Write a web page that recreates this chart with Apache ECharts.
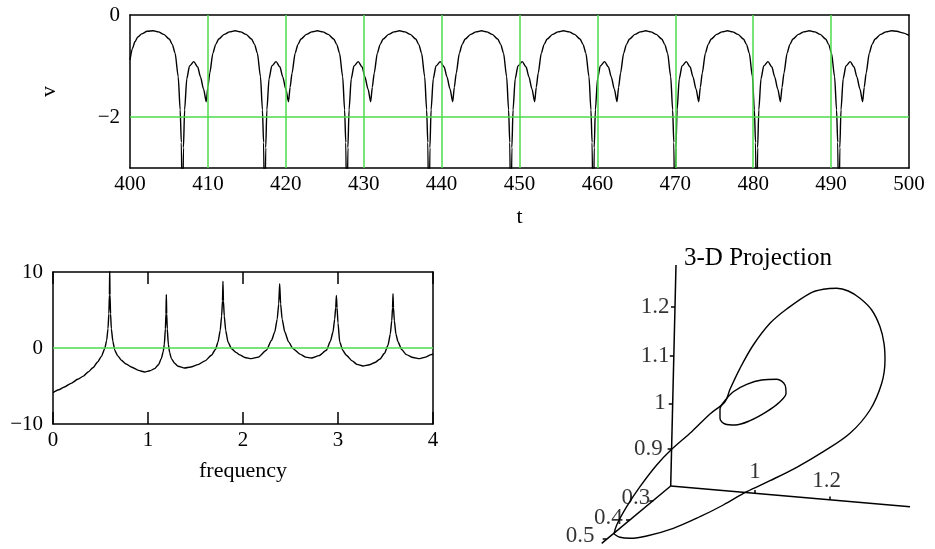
<!DOCTYPE html>
<html>
<head>
<meta charset="utf-8">
<title>v(t), spectrum and 3-D projection</title>
<script src="https://cdn.jsdelivr.net/npm/echarts@6.0.0/dist/echarts.min.js"></script>
<style>
  html, body { margin: 0; padding: 0; background: #fff; }
  #main { width: 935px; height: 549px; }
</style>
</head>
<body>
<div id="main"></div>
<script>
// v(t), 400..500 (spikes run below -3 and get clipped)
var voltage = [
  [400.00,-0.88],[400.30,-0.66],[400.65,-0.52],[401.00,-0.43],[401.50,-0.37],[402.20,-0.32],[403.00,-0.31],
  [403.64,-0.33],[404.34,-0.38],[405.04,-0.47],[405.44,-0.58],[405.79,-0.75],[406.19,-1.21],[406.44,-1.86],[406.59,-2.50],[406.74,-4.50],
  [406.86,-2.60],[407.01,-1.86],[407.29,-1.25],[407.64,-1.00],[408.19,-0.915],[408.69,-1.02],[409.04,-1.21],[409.44,-1.45],[409.79,-1.70],
  [409.99,-1.42],[410.24,-1.14],[410.64,-0.75],[410.99,-0.58],[411.39,-0.47],[412.09,-0.38],[412.79,-0.33],[413.49,-0.31],
  [414.20,-0.33],[414.90,-0.38],[415.60,-0.47],[416.00,-0.58],[416.35,-0.75],[416.75,-1.21],[417.00,-1.86],[417.15,-2.50],[417.30,-4.50],
  [417.42,-2.60],[417.57,-1.86],[417.85,-1.25],[418.20,-1.00],[418.75,-0.915],[419.25,-1.02],[419.60,-1.21],[420.00,-1.45],[420.35,-1.70],
  [420.55,-1.42],[420.80,-1.14],[421.20,-0.75],[421.55,-0.58],[421.95,-0.47],[422.65,-0.38],[423.35,-0.33],[424.05,-0.31],
  [424.75,-0.33],[425.45,-0.38],[426.15,-0.47],[426.55,-0.58],[426.90,-0.75],[427.30,-1.21],[427.55,-1.86],[427.70,-2.50],[427.85,-4.50],
  [427.97,-2.60],[428.12,-1.86],[428.40,-1.25],[428.75,-1.00],[429.30,-0.915],[429.80,-1.02],[430.15,-1.21],[430.55,-1.45],[430.90,-1.70],
  [431.10,-1.42],[431.35,-1.14],[431.75,-0.75],[432.10,-0.58],[432.50,-0.47],[433.20,-0.38],[433.90,-0.33],[434.60,-0.31],
  [435.28,-0.33],[435.98,-0.38],[436.68,-0.47],[437.08,-0.58],[437.43,-0.75],[437.83,-1.21],[438.08,-1.86],[438.23,-2.50],[438.38,-4.50],
  [438.50,-2.60],[438.65,-1.86],[438.93,-1.25],[439.28,-1.00],[439.83,-0.915],[440.33,-1.02],[440.68,-1.21],[441.08,-1.45],[441.43,-1.70],
  [441.63,-1.42],[441.88,-1.14],[442.28,-0.75],[442.63,-0.58],[443.03,-0.47],[443.73,-0.38],[444.43,-0.33],[445.13,-0.31],
  [445.80,-0.33],[446.50,-0.38],[447.20,-0.47],[447.60,-0.58],[447.95,-0.75],[448.35,-1.21],[448.60,-1.86],[448.75,-2.50],[448.90,-4.50],
  [449.02,-2.60],[449.17,-1.86],[449.45,-1.25],[449.80,-1.00],[450.35,-0.915],[450.85,-1.02],[451.20,-1.21],[451.60,-1.45],[451.95,-1.70],
  [452.15,-1.42],[452.40,-1.14],[452.80,-0.75],[453.15,-0.58],[453.55,-0.47],[454.25,-0.38],[454.95,-0.33],[455.65,-0.31],
  [456.37,-0.33],[457.07,-0.38],[457.77,-0.47],[458.17,-0.58],[458.52,-0.75],[458.92,-1.21],[459.17,-1.86],[459.32,-2.50],[459.47,-4.50],
  [459.59,-2.60],[459.74,-1.86],[460.02,-1.25],[460.37,-1.00],[460.92,-0.915],[461.42,-1.02],[461.77,-1.21],[462.17,-1.45],[462.52,-1.70],
  [462.72,-1.42],[462.97,-1.14],[463.37,-0.75],[463.72,-0.58],[464.12,-0.47],[464.82,-0.38],[465.52,-0.33],[466.22,-0.31],
  [466.86,-0.33],[467.56,-0.38],[468.26,-0.47],[468.66,-0.58],[469.01,-0.75],[469.41,-1.21],[469.66,-1.86],[469.81,-2.50],[469.96,-4.50],
  [470.08,-2.60],[470.23,-1.86],[470.51,-1.25],[470.86,-1.00],[471.41,-0.915],[471.91,-1.02],[472.26,-1.21],[472.66,-1.45],[473.01,-1.70],
  [473.21,-1.42],[473.46,-1.14],[473.86,-0.75],[474.21,-0.58],[474.61,-0.47],[475.31,-0.38],[476.01,-0.33],[476.71,-0.31],
  [477.35,-0.33],[478.05,-0.38],[478.75,-0.47],[479.15,-0.58],[479.50,-0.75],[479.90,-1.21],[480.15,-1.86],[480.30,-2.50],[480.45,-4.50],
  [480.57,-2.60],[480.72,-1.86],[481.00,-1.25],[481.35,-1.00],[481.90,-0.915],[482.40,-1.02],[482.75,-1.21],[483.15,-1.45],[483.50,-1.70],
  [483.70,-1.42],[483.95,-1.14],[484.35,-0.75],[484.70,-0.58],[485.10,-0.47],[485.80,-0.38],[486.50,-0.33],[487.20,-0.31],
  [487.90,-0.33],[488.60,-0.38],[489.30,-0.47],[489.70,-0.58],[490.05,-0.75],[490.45,-1.21],[490.70,-1.86],[490.85,-2.50],[491.00,-4.50],
  [491.12,-2.60],[491.27,-1.86],[491.55,-1.25],[491.90,-1.00],[492.45,-0.915],[492.95,-1.02],[493.30,-1.21],[493.70,-1.45],[494.05,-1.70],
  [494.25,-1.42],[494.50,-1.14],[494.90,-0.75],[495.25,-0.58],[495.65,-0.47],[496.35,-0.38],[497.05,-0.33],[497.75,-0.31],
  [498.45,-0.32],[499.20,-0.35],[500.00,-0.40]
];
var timeGrid = [410, 420, 430, 440, 450, 460, 470, 480, 490];
var voltGrid = [-2];

// spectrum against frequency
var spectrum = [
  [0,-5.87],[0.06,-5.5],[0.12,-5.13],[0.19,-4.65],[0.26,-4.12],[0.32,-3.7],[0.37,-3.16],[0.42,-2.6],[0.47,-1.84],[0.51,-1.1],
  [0.544,-0.1],[0.565,1.0],[0.579,2.55],[0.588,4.5],[0.594,7],[0.597,10.5],[0.6,7],[0.606,4.5],[0.614,2.55],[0.63,0.9],
  [0.65,-0.3],[0.68,-1.0],[0.72,-1.62],[0.77,-2.1],[0.825,-2.5],[0.9,-2.95],[0.965,-3.16],[1.02,-3.0],[1.07,-2.72],[1.11,-2.2],
  [1.14,-1.4],[1.16,-0.5],[1.172,0.5],[1.183,2.5],[1.189,4.5],[1.193,7.05],[1.197,4.5],[1.203,2.5],[1.214,0.5],[1.228,-0.6],
  [1.246,-1.4],[1.28,-2.0],[1.316,-2.4],[1.386,-2.63],[1.45,-2.5],[1.526,-2.19],[1.6,-1.7],[1.667,-0.96],[1.71,-0.2],[1.737,0.79],
  [1.76,2.3],[1.775,4.2],[1.784,6.2],[1.789,8.8],[1.794,6.2],[1.803,4.2],[1.818,2.3],[1.842,0.79],[1.88,-0.1],[1.93,-0.61],
  [1.965,-0.9],[2.02,-1.25],[2.088,-1.4],[2.16,-1.2],[2.246,-0.3],[2.3,1.0],[2.334,2.1],[2.36,3.8],[2.376,5.8],[2.386,8.47],
  [2.396,5.8],[2.412,3.8],[2.44,2.1],[2.48,0.8],[2.526,-0.08],[2.6,-0.8],[2.66,-1.2],[2.72,-1.32],[2.8,-1.0],[2.878,-0.3],
  [2.92,0.9],[2.947,2.1],[2.965,3.8],[2.976,5.3],[2.983,6.93],[2.99,5.3],[3.0,3.3],[3.018,0.79],[3.05,-0.3],[3.088,-0.96],
  [3.15,-1.7],[3.2,-2.15],[3.263,-2.37],[3.33,-2.2],[3.39,-1.9],[3.439,-1.49],[3.49,-0.7],[3.526,0.36],[3.55,1.8],[3.566,3.6],
  [3.574,5.3],[3.579,7.16],[3.584,5.3],[3.593,3.6],[3.61,1.8],[3.632,0.79],[3.67,-0.2],[3.72,-0.87],[3.79,-1.25],[3.86,-1.4],
  [3.92,-1.2],[3.98,-0.87],[4,-0.8]
];
var specGrid = [0];

// 3-D projection, in screen-plane coordinates of the projection box
var bigLoop = [
  [44,304],[50,307.3],[60,308.3],[76.7,306],[103.3,298.3],[130,286.7],[153.3,275],[176.7,261.7],[200,250.7],[226.7,237.3],
  [253.3,221.7],[280,203.3],[300,180],[311.7,153.3],[315,130],[314,113.3],[310,96.7],[301.7,80],[290,68.3],[278.3,61],
  [266.7,58.3],[253.3,59.3],[240,63.3],[216.7,79],[200,93.3],[183.3,115],[170,138.3],[160,159.3],[155,171.7],[140,184],
  [121.7,201.7],[101.7,219.3],[86.7,235],[70,256.7],[56.7,276.7],[46.7,295],[44,304]
];
var smallLoop = [
  [154,171.7],[163.3,161.7],[176.7,154.3],[191.7,150],[206.7,149.3],[215,155],[216,163.3],[210,171.7],[196.7,181.7],
  [180,190.7],[165,195],[155,194],[150,188.3],[150,179.3],[154,171.7]
];
var projAxes = [
  [[100.7,256],[106,35]],
  [[100.7,256],[340,276.7]],
  [[100.7,256],[31.7,313.3]]
];
var projTicks = [
  [[101,76.7],[105,76.7]], [[99.8,126],[103.8,126]], [[98.7,173.3],[102.7,173.3]], [[97.6,219],[101.6,219]],
  [[185,263.2],[185,260]], [[260,269.7],[260,266.5]],
  [[79.3,270.4],[83.3,270.4]], [[56,289.8],[60,289.8]], [[32.7,309],[36.7,309]]
];
var projTickLabels = [
  ['1.2',[85,76.7]], ['1.1',[85,126]], ['1',[90,173.3]], ['0.9',[78.3,219]],
  ['1',[185,241.5]], ['1.2',[256.7,250.8]],
  ['0.3',[65.8,268.3]], ['0.4',[38.3,287.5]], ['0.5',[10,306]]
];

var serif = "'Liberation Serif', 'Times New Roman', serif";
var green = '#4cdc4c';

function frame() { return { show: true, onZero: false, lineStyle: { color: '#000', width: 1.5 } }; }
function off() { return { show: false }; }
function minus(v) { return v < 0 ? '\u2212' + (-v) : '' + v; }
function tickText(extra) {
  var s = { color: '#000', fontFamily: serif, fontSize: 21 };
  for (var k in extra) s[k] = extra[k];
  return s;
}
function nameText() { return { color: '#000', fontFamily: serif, fontSize: 22 }; }
function greenLines(axisKey, values, width) {
  return {
    silent: true, symbol: ['none', 'none'], label: { show: false },
    emphasis: { disabled: true },
    lineStyle: { color: green, type: 'solid', width: width, opacity: 1 },
    data: values.map(function (v) { var d = {}; d[axisKey] = v; return d; })
  };
}
function insideTicks() {
  return { show: true, inside: true, length: 12, lineStyle: { color: '#000', width: 1.5 } };
}

var chart = echarts.init(document.getElementById('main'));
chart.setOption({
  animation: false,
  backgroundColor: '#fff',
  title: [{
    text: '3-D Projection', left: 679, top: 241,
    textStyle: { color: '#000', fontFamily: serif, fontSize: 25, fontWeight: 'normal' }
  }],
  grid: [
    { left: 130, top: 15, width: 779, height: 153 },
    { left: 53, top: 272, width: 380, height: 152 },
    { left: 570, top: 230, width: 365, height: 319 }
  ],
  xAxis: [
    { gridIndex: 0, type: 'value', min: 400, max: 500, interval: 10,
      axisLine: frame(), axisTick: off(), splitLine: off(),
      axisLabel: tickText({ margin: 6 }),
      name: 't', nameLocation: 'middle', nameGap: 38, nameTextStyle: nameText() },
    { gridIndex: 0, type: 'value', position: 'top', min: 400, max: 500,
      axisLine: frame(), axisTick: off(), axisLabel: off(), splitLine: off() },
    { gridIndex: 1, type: 'value', min: 0, max: 4, interval: 1,
      axisLine: frame(), axisTick: insideTicks(), splitLine: off(),
      axisLabel: tickText({ margin: 6 }),
      name: 'frequency', nameLocation: 'middle', nameGap: 36, nameTextStyle: nameText() },
    { gridIndex: 1, type: 'value', position: 'top', min: 0, max: 4, interval: 1,
      axisLine: frame(), axisTick: insideTicks(), axisLabel: off(), splitLine: off() },
    { gridIndex: 2, type: 'value', min: 0, max: 365, show: false }
  ],
  yAxis: [
    { gridIndex: 0, type: 'value', min: -3, max: 0, interval: 1,
      axisLine: frame(), axisTick: off(), splitLine: off(),
      axisLabel: tickText({ margin: 10, formatter: function (v) {
        return (v === 0 || v === -2) ? minus(v) : '';
      } }),
      name: 'v', nameLocation: 'middle', nameGap: 70, nameRotate: 90, nameTextStyle: nameText() },
    { gridIndex: 0, type: 'value', position: 'right', min: -3, max: 0,
      axisLine: frame(), axisTick: off(), axisLabel: off(), splitLine: off() },
    { gridIndex: 1, type: 'value', min: -10, max: 10, interval: 10,
      axisLine: frame(), axisTick: off(), splitLine: off(),
      axisLabel: tickText({ margin: 10, formatter: minus }) },
    { gridIndex: 1, type: 'value', position: 'right', min: -10, max: 10,
      axisLine: frame(), axisTick: off(), axisLabel: off(), splitLine: off() },
    { gridIndex: 2, type: 'value', min: 0, max: 319, inverse: true, show: false }
  ],
  series: [
    { type: 'line', xAxisIndex: 0, yAxisIndex: 0, data: [], z: 1,
      markLine: greenLines('xAxis', timeGrid, 1.5) },
    { type: 'line', xAxisIndex: 0, yAxisIndex: 0, data: [], z: 1,
      markLine: greenLines('yAxis', voltGrid, 1.5) },
    { type: 'line', name: 'v', xAxisIndex: 0, yAxisIndex: 0, data: voltage, z: 3,
      symbol: 'none', smooth: 0.25, smoothMonotone: 'x',
      lineStyle: { color: '#000', width: 1.4 } },
    { type: 'line', xAxisIndex: 2, yAxisIndex: 2, data: [], z: 1,
      markLine: greenLines('yAxis', specGrid, 1.5) },
    { type: 'line', name: 'spectrum', xAxisIndex: 2, yAxisIndex: 2, data: spectrum, z: 3,
      symbol: 'none', smooth: 0.2, smoothMonotone: 'x',
      lineStyle: { color: '#000', width: 1.4 } },
    { type: 'lines', coordinateSystem: 'cartesian2d', xAxisIndex: 4, yAxisIndex: 4,
      data: projAxes.concat(projTicks).map(function (c) { return { coords: c }; }),
      lineStyle: { color: '#000', width: 1.5, opacity: 1 } },
    { type: 'line', xAxisIndex: 4, yAxisIndex: 4, data: bigLoop, symbol: 'none',
      smooth: 0.35, lineStyle: { color: '#000', width: 1.4 } },
    { type: 'line', xAxisIndex: 4, yAxisIndex: 4, data: smallLoop, symbol: 'none',
      smooth: 0.35, lineStyle: { color: '#000', width: 1.4 } },
    { type: 'scatter', xAxisIndex: 4, yAxisIndex: 4, symbolSize: 2,
      itemStyle: { color: 'rgba(0,0,0,0)' },
      data: projTickLabels.map(function (d) { return { name: d[0], value: d[1] }; }),
      label: { show: true, position: 'inside', formatter: '{b}', color: '#000',
        fontFamily: serif, fontSize: 23 } }
  ]
});
</script>
</body>
</html>
